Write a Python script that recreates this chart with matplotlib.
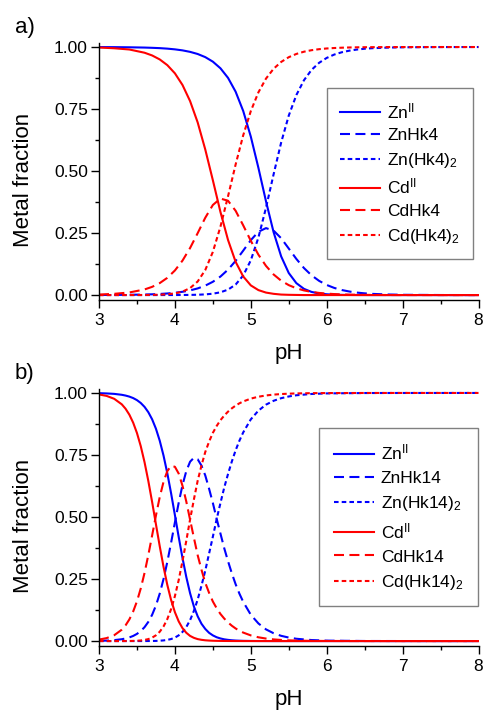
import matplotlib
matplotlib.use("Agg")
import matplotlib.pyplot as plt
from matplotlib.ticker import MultipleLocator, FormatStrFormatter

plt.rcParams['font.family'] = ['Liberation Sans', 'DejaVu Sans']
plt.rcParams['mathtext.fontset'] = 'custom'
plt.rcParams['mathtext.rm'] = 'Liberation Sans'
plt.rcParams['mathtext.it'] = 'Liberation Sans:italic'
plt.rcParams['mathtext.bf'] = 'Liberation Sans:bold'

# ---------------- data: panel a (Hk4) ----------------
pH_a = [3.0, 3.2, 3.4, 3.6, 3.7, 3.8, 3.9, 4.0, 4.1, 4.2, 4.3, 4.4, 4.5, 4.6, 4.7,
        4.8, 4.9, 5.0, 5.1, 5.2, 5.3, 5.4, 5.5, 5.6, 5.7, 5.8, 5.9, 6.0, 6.1, 6.2,
        6.3, 6.4, 6.5, 6.6, 6.8, 7.0, 7.5, 8.0]

zn_free_a = [0.9997, 0.9995, 0.9989, 0.9978, 0.9968, 0.9955, 0.9935, 0.9906, 0.9865,
             0.9805, 0.9719, 0.9593, 0.9410, 0.9143, 0.8756, 0.8199, 0.7421, 0.6388,
             0.5131, 0.3782, 0.2537, 0.1558, 0.0889, 0.0481, 0.0251, 0.0127, 0.0064,
             0.0032, 0.0016, 0.0008, 0.0004, 0.0002, 0.0001, 0.0, 0.0, 0.0, 0.0, 0.0]
zn_ml_a = [0.0003, 0.0005, 0.0011, 0.0022, 0.0031, 0.0045, 0.0064, 0.0092, 0.0132,
           0.0188, 0.0268, 0.0380, 0.0535, 0.0746, 0.1025, 0.1378, 0.1791, 0.2213,
           0.2552, 0.2699, 0.2599, 0.2291, 0.1876, 0.1457, 0.1090, 0.0796, 0.0572,
           0.0407, 0.0287, 0.0202, 0.0142, 0.0099, 0.0069, 0.0048, 0.0024, 0.0011,
           0.0002, 0.0]
zn_ml2_a = [0.0, 0.0, 0.0, 0.0, 0.0, 0.0, 0.0001, 0.0002, 0.0003, 0.0007, 0.0013,
            0.0027, 0.0055, 0.0111, 0.0219, 0.0423, 0.0789, 0.1400, 0.2317, 0.3518,
            0.4864, 0.6152, 0.7235, 0.8063, 0.8659, 0.9077, 0.9364, 0.9561, 0.9697,
            0.9790, 0.9854, 0.9899, 0.9931, 0.9952, 0.9976, 0.9989, 0.9998, 1.0]

cd_free_a = [0.998, 0.995, 0.990, 0.977, 0.966, 0.950, 0.927, 0.894, 0.847, 0.782,
             0.696, 0.587, 0.463, 0.335, 0.222, 0.134, 0.075, 0.039, 0.020, 0.010,
             0.005, 0.002, 0.001, 0.0005, 0.0, 0.0, 0.0, 0.0, 0.0, 0.0, 0.0, 0.0,
             0.0, 0.0, 0.0, 0.0, 0.0, 0.0]
cd_ml_a = [0.002, 0.005, 0.0105, 0.0226, 0.0331, 0.0482, 0.0695, 0.0991, 0.1389,
           0.1897, 0.2496, 0.3117, 0.3632, 0.3891, 0.3802, 0.3398, 0.2810, 0.2188,
           0.1629, 0.1176, 0.0831, 0.0579, 0.0400, 0.0274, 0.0187, 0.0127, 0.0086,
           0.0058, 0.0040, 0.0027, 0.0018, 0.0012, 0.0008, 0.0006, 0.0002, 0.0001,
           0.0, 0.0]
cd_ml2_a = [0.0, 0.0, 0.0001, 0.0003, 0.0007, 0.0015, 0.0032, 0.0067, 0.0139, 0.0281,
            0.0547, 0.1009, 0.1740, 0.2757, 0.3983, 0.5264, 0.6442, 0.7418, 0.8172,
            0.8727, 0.9123, 0.9399, 0.9590, 0.9721, 0.9811, 0.9872, 0.9913, 0.9942,
            0.9960, 0.9973, 0.9982, 0.9988, 0.9992, 0.9994, 0.9998, 0.9999, 1.0, 1.0]

# ---------------- data: panel b (Hk14) ----------------
pH_b = [3.0, 3.1, 3.2, 3.3, 3.35, 3.4, 3.45, 3.5, 3.55, 3.6, 3.65, 3.7, 3.75, 3.8,
        3.85, 3.9, 3.95, 4.0, 4.05, 4.1, 4.15, 4.2, 4.25, 4.3, 4.35, 4.4, 4.45, 4.5,
        4.55, 4.6, 4.65, 4.7, 4.75, 4.8, 4.85, 4.9, 5.0, 5.1, 5.2, 5.3, 5.4, 5.5,
        5.6, 5.8, 6.0, 6.5, 7.0, 8.0]

zn_free_b = [0.9991, 0.9981, 0.9963, 0.9926, 0.9895, 0.9853, 0.9794, 0.9711, 0.9596,
             0.9439, 0.9224, 0.8937, 0.8560, 0.8077, 0.7478, 0.6764, 0.5952, 0.5079,
             0.4195, 0.3348, 0.2584, 0.1929, 0.1396, 0.0999, 0.0698, 0.0489, 0.0333,
             0.0229, 0.0154, 0.0105, 0.0070, 0.0048, 0.0032, 0.0021, 0.0014, 0.0009,
             0.0004, 0.0002, 0.0001, 0.0, 0.0, 0.0, 0.0, 0.0, 0.0, 0.0, 0.0, 0.0]
zn_ml_b = [0.0009, 0.0019, 0.0037, 0.0074, 0.0104, 0.0147, 0.0206, 0.0289, 0.0403,
           0.0560, 0.0774, 0.1059, 0.1432, 0.1909, 0.2497, 0.3190, 0.3965, 0.4781,
           0.5575, 0.6286, 0.6851, 0.7228, 0.7388, 0.7328, 0.7073, 0.6676, 0.6143,
           0.5566, 0.4932, 0.4333, 0.3742, 0.3217, 0.2731, 0.2291, 0.1910, 0.1581,
           0.1060, 0.0711, 0.0471, 0.0316, 0.0211, 0.0141, 0.0093, 0.0041, 0.0018,
           0.0003, 0.0001, 0.0]
zn_ml2_b = [0.0, 0.0, 0.0, 0.0, 0.0, 0.0, 0.0, 0.0, 0.0001, 0.0001, 0.0002, 0.0004,
            0.0007, 0.0014, 0.0026, 0.0047, 0.0082, 0.0140, 0.0230, 0.0367, 0.0565,
            0.0842, 0.1216, 0.1673, 0.2229, 0.2837, 0.3523, 0.4205, 0.4914, 0.5562,
            0.6188, 0.6735, 0.7237, 0.7688, 0.8076, 0.8410, 0.8936, 0.9287, 0.9528,
            0.9684, 0.9789, 0.9859, 0.9907, 0.9959, 0.9982, 0.9997, 0.9999, 1.0]

cd_free_b = [0.9940, 0.9881, 0.9765, 0.9542, 0.9364, 0.9124, 0.8803, 0.8386, 0.7857,
             0.7209, 0.6449, 0.5604, 0.4711, 0.3825, 0.2996, 0.2264, 0.1652, 0.1164,
             0.0792, 0.0520, 0.0334, 0.0208, 0.0130, 0.0079, 0.0050, 0.0031, 0.0020,
             0.0013, 0.0009, 0.0006, 0.0004, 0.0003, 0.0002, 0.0001, 0.0001, 0.0,
             0.0, 0.0, 0.0, 0.0, 0.0, 0.0, 0.0, 0.0, 0.0, 0.0, 0.0, 0.0]
cd_ml_b = [0.0060, 0.0119, 0.0235, 0.0458, 0.0634, 0.0873, 0.1190, 0.1601, 0.2119,
           0.2746, 0.3471, 0.4258, 0.5057, 0.5800, 0.6417, 0.6851, 0.7060, 0.7025,
           0.6751, 0.6260, 0.5625, 0.4890, 0.4168, 0.3460, 0.2876, 0.2350, 0.1945,
           0.1595, 0.1323, 0.1092, 0.0907, 0.0750, 0.0618, 0.0508, 0.0417, 0.0342,
           0.0228, 0.0152, 0.0101, 0.0067, 0.0044, 0.0029, 0.0019, 0.0008, 0.0004,
           0.0001, 0.0, 0.0]
cd_ml2_b = [0.0, 0.0, 0.0, 0.0001, 0.0002, 0.0004, 0.0007, 0.0013, 0.0024, 0.0045,
            0.0080, 0.0138, 0.0232, 0.0375, 0.0587, 0.0885, 0.1288, 0.1811, 0.2458,
            0.3220, 0.4040, 0.4902, 0.5702, 0.6461, 0.7074, 0.7619, 0.8035, 0.8392,
            0.8668, 0.8902, 0.9089, 0.9247, 0.9380, 0.9491, 0.9583, 0.9658, 0.9772,
            0.9848, 0.9899, 0.9933, 0.9956, 0.9971, 0.9981, 0.9992, 0.9996, 0.9999,
            1.0, 1.0]

labels_a = [r'Zn$^{\mathrm{II}}$', 'ZnHk4', r'Zn(Hk4)$_{2}$',
            r'Cd$^{\mathrm{II}}$', 'CdHk4', r'Cd(Hk4)$_{2}$']
labels_b = [r'Zn$^{\mathrm{II}}$', 'ZnHk14', r'Zn(Hk14)$_{2}$',
            r'Cd$^{\mathrm{II}}$', 'CdHk14', r'Cd(Hk14)$_{2}$']

x_ticks = [3, 4, 5, 6, 7, 8]
y_ticks = [0.0, 0.25, 0.50, 0.75, 1.00]

BLUE = '#0000ff'
RED = '#ff0000'
DASH = (0, (4.8, 2.6))
DOT = (0, (2.2, 1.5))

fig = plt.figure(figsize=(4.86, 7.14), dpi=100)
ax_a = fig.add_axes([0.2037, 0.5798, 0.7809, 0.3599])
ax_b = fig.add_axes([0.2037, 0.0952, 0.7809, 0.3600])


def draw(ax, ph, zn0, zn1, zn2, cd0, cd1, cd2, labels, leg_anchor, bpad, lspace):
    lw = 1.5
    h = []
    h += ax.plot(ph, zn0, color=BLUE, lw=lw, ls='-', label=labels[0])
    h += ax.plot(ph, zn1, color=BLUE, lw=lw, ls=DASH, label=labels[1])
    h += ax.plot(ph, zn2, color=BLUE, lw=lw, ls=DOT, label=labels[2])
    h += ax.plot(ph, cd0, color=RED, lw=lw, ls='-', label=labels[3])
    h += ax.plot(ph, cd1, color=RED, lw=lw, ls=DASH, label=labels[4])
    h += ax.plot(ph, cd2, color=RED, lw=lw, ls=DOT, label=labels[5])

    ax.set_xlim(3, 8)
    ax.set_ylim(-0.02, 1.016)
    ax.spines['top'].set_visible(False)
    ax.spines['right'].set_visible(False)
    for s in ('left', 'bottom'):
        ax.spines[s].set_linewidth(1.0)
    ax.set_xticks(x_ticks)
    ax.set_yticks(y_ticks)
    ax.xaxis.set_minor_locator(MultipleLocator(0.5))
    ax.yaxis.set_minor_locator(MultipleLocator(0.125))
    ax.yaxis.set_major_formatter(FormatStrFormatter('%.2f'))
    ax.tick_params(which='major', direction='out', length=5.5, width=1.0,
                   labelsize=12.5, pad=2.5)
    ax.tick_params(which='minor', direction='out', length=3, width=1.0)
    ax.tick_params(axis='x', which='major', pad=4)

    ax.set_xlabel('pH', fontsize=16, va='center')
    ax.xaxis.set_label_coords(0.5, -0.207)
    ax.set_ylabel('Metal fraction', fontsize=16, va='center')
    ax.yaxis.set_label_coords(-0.200, 0.468)

    leg = ax.legend(handles=h, loc='upper right', bbox_to_anchor=leg_anchor,
                    bbox_transform=ax.transAxes, borderaxespad=0.0,
                    fontsize=12.5, frameon=True, fancybox=False, shadow=False,
                    handlelength=2.3, handletextpad=0.4, labelspacing=lspace,
                    borderpad=bpad)
    fr = leg.get_frame()
    fr.set_edgecolor('#808080')
    fr.set_linewidth(1.0)
    fr.set_facecolor('white')
    fr.set_alpha(1.0)


draw(ax_a, pH_a, zn_free_a, zn_ml_a, zn_ml2_a, cd_free_a, cd_ml_a, cd_ml2_a,
     labels_a, (0.9855, 0.825), 0.75, 0.42)
draw(ax_b, pH_b, zn_free_b, zn_ml_b, zn_ml2_b, cd_free_b, cd_ml_b, cd_ml2_b,
     labels_b, (0.9987, 0.848), 0.85, 0.47)

fig.text(15 / 486, 1 - 27 / 714, 'a)', fontsize=16, ha='left', va='center')
fig.text(15 / 486, 1 - 374 / 714, 'b)', fontsize=16, ha='left', va='center')

fig.savefig('out.png', dpi=100)
